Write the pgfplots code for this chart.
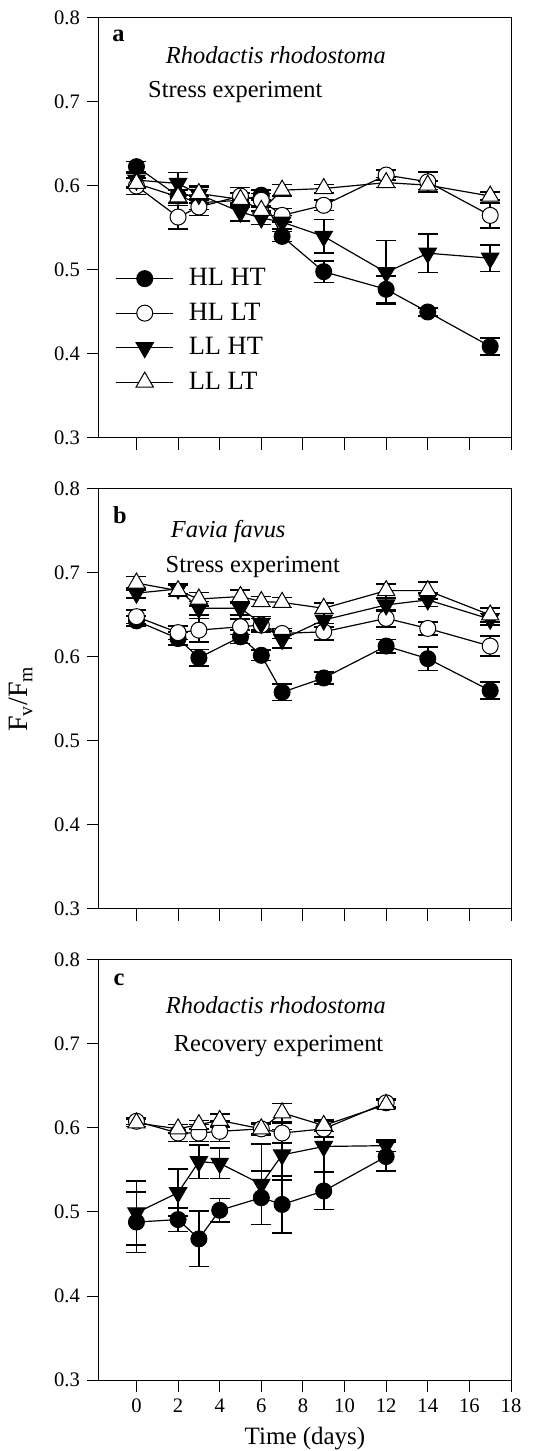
\documentclass[border=0pt]{standalone}
\usepackage{fontspec}
\setmainfont{Liberation Serif}
\usepackage{pgfplots}
\pgfplotsset{compat=1.18}

\newcommand{\tl}{\fontsize{10.3}{12}\selectfont}
\newcommand{\tx}{\fontsize{12.2}{14.6}\selectfont}
\newcommand{\legf}{\fontsize{13.2}{15.5}\selectfont}

\pgfplotsset{
  panel/.style={
    scale only axis, width=206pt, height=210pt,
    xmin=-1.8, xmax=18, ymin=0.3, ymax=0.8,
    xtick={0,2,4,6,8,10,12,14,16,18},
    ytick={0.3,0.4,0.5,0.6,0.7,0.8},
    yticklabels={0.3,0.4,0.5,0.6,0.7,0.8},
    xtick pos=left, ytick pos=left, tick align=outside,
    major tick length=6pt,
    axis line style={line width=0.5pt},
    tick style={line width=0.5pt, black},
    font=\tx,
    every tick label/.append style={font=\tl},
    /pgf/number format/assume math mode=true,
    clip=false,
  },
  ser/.style={black, line width=0.6pt,
    error bars/y dir=both, error bars/y explicit,
    error bars/error bar style={line width=0.8pt, black},
    error bars/error mark options={rotate=90, line width=0.8pt, mark size=5pt, black}},
  hlht/.style={ser, mark=*, mark size=4pt, mark options={fill=black, draw=black, line width=0.5pt}},
  hllt/.style={ser, mark=*, mark size=4pt, mark options={fill=white, draw=black, line width=0.5pt}},
  llht/.style={ser, mark=triangle*, mark size=5pt, mark options={fill=black, draw=black, rotate=180, line width=0.5pt}},
  lllt/.style={ser, mark=triangle*, mark size=5pt, mark options={fill=white, draw=black, line width=0.5pt}},
}

\begin{document}
\begin{tikzpicture}

% panel a
\begin{axis}[panel, at={(0,471pt)}, xticklabels={},
  legend style={at={(axis cs:-1.02,0.507)}, anchor=north west, draw=none, fill=none,
    inner sep=0pt, row sep=3.1pt, font=\legf,
    /tikz/every odd column/.append style={column sep=5.5pt}},
  legend image code/.code={\draw[mark repeat=2, mark phase=2, #1] plot coordinates {(0pt,0pt) (14.25pt,0pt) (28.5pt,0pt)};},
  legend cell align=left]
\addplot[hlht] coordinates {(0,0.623) +- (0,0.006) (2,0.588) +- (0,0.008) (3,0.580) +- (0,0.008) (5,0.583) +- (0,0.008) (6,0.589) +- (0,0.006) (7,0.540) +- (0,0.006) (9,0.498) +- (0,0.013) (12,0.477) +- (0,0.016) (14,0.450) +- (0,0.005) (17,0.409) +- (0,0.010)};
\addlegendentry{HL HT}
\addplot[hllt] coordinates {(0,0.600) +- (0,0.010) (2,0.563) +- (0,0.014) (3,0.575) +- (0,0.010) (5,0.588) +- (0,0.010) (6,0.583) +- (0,0.008) (7,0.565) +- (0,0.008) (9,0.577) +- (0,0.006) (12,0.613) +- (0,0.006) (14,0.605) +- (0,0.012) (17,0.565) +- (0,0.015)};
\addlegendentry{HL LT}
\addplot[llht] coordinates {(0,0.607) +- (0,0.008) (2,0.603) +- (0,0.013) (3,0.590) +- (0,0.010) (5,0.569) +- (0,0.011) (6,0.562) +- (0,0.008) (7,0.557) +- (0,0.008) (9,0.540) +- (0,0.020) (12,0.497) +- (0,0.038) (14,0.520) +- (0,0.023) (17,0.514) +- (0,0.016)};
\addlegendentry{LL HT}
\addplot[lllt] coordinates {(0,0.603) +- (0,0.006) (2,0.587) +- (0,0.008) (3,0.591) +- (0,0.008) (5,0.584) +- (0,0.008) (6,0.571) +- (0,0.006) (7,0.595) +- (0,0.007) (9,0.597) +- (0,0.005) (12,0.604) +- (0,0.006) (14,0.601) +- (0,0.005) (17,0.588) +- (0,0.005)};
\addlegendentry{LL LT}
\node[anchor=base, font=\bfseries\tx] at (axis cs:-0.87,0.772) {a};
\node[anchor=base, font=\itshape\tx] at (axis cs:6.70,0.7464) {Rhodactis rhodostoma};
\node[anchor=base] at (axis cs:4.75,0.7048) {Stress experiment};
\end{axis}

% panel b
\begin{axis}[panel, at={(0,235.5pt)}, xticklabels={}]
\addplot[hlht] coordinates {(0,0.643) +- (0,0.006) (2,0.622) +- (0,0.008) (3,0.599) +- (0,0.010) (5,0.624) +- (0,0.008) (6,0.602) +- (0,0.006) (7,0.558) +- (0,0.010) (9,0.575) +- (0,0.007) (12,0.613) +- (0,0.008) (14,0.598) +- (0,0.014) (17,0.560) +- (0,0.010)};
\addplot[hllt] coordinates {(0,0.648) +- (0,0.008) (2,0.629) +- (0,0.008) (3,0.632) +- (0,0.014) (5,0.636) +- (0,0.009) (6,0.638) +- (0,0.008) (7,0.628) +- (0,0.006) (9,0.630) +- (0,0.010) (12,0.646) +- (0,0.010) (14,0.634) +- (0,0.008) (17,0.613) +- (0,0.012)};
\addplot[llht] coordinates {(0,0.676) +- (0,0.006) (2,0.681) +- (0,0.006) (3,0.658) +- (0,0.008) (5,0.658) +- (0,0.008) (6,0.640) +- (0,0.008) (7,0.621) +- (0,0.010) (9,0.644) +- (0,0.008) (12,0.662) +- (0,0.008) (14,0.668) +- (0,0.008) (17,0.645) +- (0,0.007)};
\addplot[lllt] coordinates {(0,0.688) +- (0,0.008) (2,0.679) +- (0,0.007) (3,0.669) +- (0,0.008) (5,0.672) +- (0,0.008) (6,0.666) +- (0,0.006) (7,0.665) +- (0,0.006) (9,0.658) +- (0,0.006) (12,0.679) +- (0,0.008) (14,0.679) +- (0,0.010) (17,0.650) +- (0,0.008)};
\node[anchor=base, font=\bfseries\tx] at (axis cs:-0.80,0.7585) {b};
\node[anchor=base, font=\itshape\tx] at (axis cs:4.41,0.7427) {Favia favus};
\node[anchor=base] at (axis cs:5.59,0.700) {Stress experiment};
\end{axis}

% panel c
\begin{axis}[panel, at={(0,0)},
  xlabel={Time (days)}, xlabel style={font=\fontsize{12.5}{15}\selectfont}]
\addplot[hlht] coordinates {(0,0.488) +- (0,0.036) (2,0.491) +- (0,0.014) (3,0.468) +- (0,0.033) (4,0.502) +- (0,0.014) (6,0.517) +- (0,0.032) (7,0.509) +- (0,0.034) (9,0.525) +- (0,0.022) (12,0.566) +- (0,0.017)};
\addplot[hllt] coordinates {(0,0.608) +- (0,0.004) (2,0.594) +- (0,0.010) (3,0.594) +- (0,0.010) (4,0.596) +- (0,0.012) (6,0.599) +- (0,0.006) (7,0.594) +- (0,0.012) (9,0.599) +- (0,0.010) (12,0.630) +- (0,0.005)};
\addplot[llht] coordinates {(0,0.499) +- (0,0.038) (2,0.523) +- (0,0.028) (3,0.560) +- (0,0.020) (4,0.558) +- (0,0.018) (6,0.533) +- (0,0.048) (7,0.568) +- (0,0.030) (9,0.578) +- (0,0.030) (12,0.579) +- (0,0.007)};
\addplot[lllt] coordinates {(0,0.606) +- (0,0.004) (2,0.599) +- (0,0.005) (3,0.604) +- (0,0.005) (4,0.609) +- (0,0.008) (6,0.599) +- (0,0.007) (7,0.618) +- (0,0.011) (9,0.603) +- (0,0.007) (12,0.628) +- (0,0.005)};
\node[anchor=base, font=\bfseries\tx] at (axis cs:-0.84,0.770) {c};
\node[anchor=base, font=\itshape\tx] at (axis cs:6.70,0.7365) {Rhodactis rhodostoma};
\node[anchor=base] at (axis cs:6.83,0.691) {Recovery experiment};
\end{axis}

\node[rotate=90, font=\fontsize{14}{16}\selectfont] at (-39pt,340.5pt) {F\textsubscript{v}/F\textsubscript{m}};

\pgfresetboundingbox
\path[use as bounding box] (-49.5pt,-35.5pt) rectangle (217pt,690pt);
\end{tikzpicture}
\end{document}
